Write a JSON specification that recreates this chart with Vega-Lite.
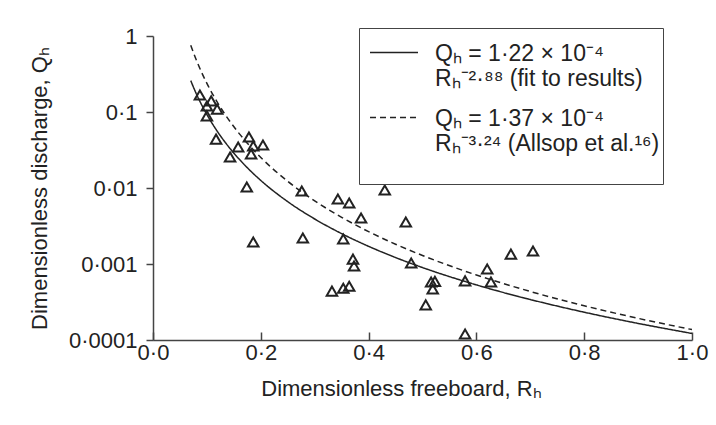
{
  "$schema": "https://vega.github.io/schema/vega-lite/v6.json",
  "width": 539,
  "height": 304,
  "autosize": {"type": "none"},
  "padding": {"left": 153, "top": 36, "right": 24, "bottom": 85},
  "background": "white",
  "config": {
    "view": {"stroke": null},
    "font": "Liberation Sans",
    "style": {"guide-label": {"lineHeight": 25}},
    "axis": {
      "grid": false,
      "domainColor": "#444",
      "domainWidth": 1.5,
      "tickColor": "#444",
      "tickWidth": 1.5,
      "labelFont": "Liberation Sans",
      "labelFontSize": 22,
      "labelColor": "#222",
      "labelFlush": false,
      "labelOverlap": false,
      "titleFont": "Liberation Sans",
      "titleFontSize": 22,
      "titleFontWeight": "normal",
      "titleColor": "#222"
    }
  },
  "datasets": {
    "obs": [
      {"R": 0.087, "Q": 0.167}, {"R": 0.108, "Q": 0.14}, {"R": 0.100, "Q": 0.12},
      {"R": 0.119, "Q": 0.109}, {"R": 0.100, "Q": 0.089}, {"R": 0.117, "Q": 0.044},
      {"R": 0.158, "Q": 0.0346}, {"R": 0.143, "Q": 0.0256}, {"R": 0.178, "Q": 0.047},
      {"R": 0.186, "Q": 0.0357}, {"R": 0.204, "Q": 0.0368}, {"R": 0.182, "Q": 0.028},
      {"R": 0.174, "Q": 0.0103}, {"R": 0.186, "Q": 0.00195}, {"R": 0.276, "Q": 0.00914},
      {"R": 0.343, "Q": 0.00717}, {"R": 0.364, "Q": 0.00635}, {"R": 0.430, "Q": 0.0094},
      {"R": 0.386, "Q": 0.00403}, {"R": 0.469, "Q": 0.00357}, {"R": 0.278, "Q": 0.0022},
      {"R": 0.353, "Q": 0.00213}, {"R": 0.371, "Q": 0.00116}, {"R": 0.373, "Q": 0.00094},
      {"R": 0.479, "Q": 0.00103}, {"R": 0.332, "Q": 0.00044}, {"R": 0.353, "Q": 0.00048},
      {"R": 0.364, "Q": 0.00051}, {"R": 0.516, "Q": 0.00058}, {"R": 0.523, "Q": 0.00059},
      {"R": 0.519, "Q": 0.00047}, {"R": 0.506, "Q": 0.00029}, {"R": 0.664, "Q": 0.00135},
      {"R": 0.705, "Q": 0.00148}, {"R": 0.620, "Q": 0.00086}, {"R": 0.579, "Q": 0.0006},
      {"R": 0.627, "Q": 0.00058}, {"R": 0.579, "Q": 0.00012}
    ],
    "curves": [
      {"series": "fit", "R": 0.07, "Q": 0.2587},
      {"series": "fit", "R": 0.08, "Q": 0.17596},
      {"series": "fit", "R": 0.09, "Q": 0.12535},
      {"series": "fit", "R": 0.10, "Q": 0.09255},
      {"series": "fit", "R": 0.12, "Q": 0.05475},
      {"series": "fit", "R": 0.14, "Q": 0.03512},
      {"series": "fit", "R": 0.16, "Q": 0.02391},
      {"series": "fit", "R": 0.18, "Q": 0.01703},
      {"series": "fit", "R": 0.20, "Q": 0.01257},
      {"series": "fit", "R": 0.25, "Q": 0.006611},
      {"series": "fit", "R": 0.30, "Q": 0.003911},
      {"series": "fit", "R": 0.35, "Q": 0.002509},
      {"series": "fit", "R": 0.40, "Q": 0.001708},
      {"series": "fit", "R": 0.45, "Q": 0.001216},
      {"series": "fit", "R": 0.50, "Q": 0.000898},
      {"series": "fit", "R": 0.60, "Q": 0.000531},
      {"series": "fit", "R": 0.70, "Q": 0.0003408},
      {"series": "fit", "R": 0.80, "Q": 0.000232},
      {"series": "fit", "R": 0.90, "Q": 0.0001653},
      {"series": "fit", "R": 1.00, "Q": 0.000122},
      {"series": "allsop", "R": 0.07, "Q": 0.7562},
      {"series": "allsop", "R": 0.08, "Q": 0.4906},
      {"series": "allsop", "R": 0.09, "Q": 0.3349},
      {"series": "allsop", "R": 0.10, "Q": 0.2381},
      {"series": "allsop", "R": 0.12, "Q": 0.1319},
      {"series": "allsop", "R": 0.14, "Q": 0.08003},
      {"series": "allsop", "R": 0.16, "Q": 0.05193},
      {"series": "allsop", "R": 0.18, "Q": 0.03545},
      {"series": "allsop", "R": 0.20, "Q": 0.0252},
      {"series": "allsop", "R": 0.25, "Q": 0.012229},
      {"series": "allsop", "R": 0.30, "Q": 0.006775},
      {"series": "allsop", "R": 0.35, "Q": 0.004111},
      {"series": "allsop", "R": 0.40, "Q": 0.002667},
      {"series": "allsop", "R": 0.45, "Q": 0.001821},
      {"series": "allsop", "R": 0.50, "Q": 0.001294},
      {"series": "allsop", "R": 0.60, "Q": 0.000717},
      {"series": "allsop", "R": 0.70, "Q": 0.000435},
      {"series": "allsop", "R": 0.80, "Q": 0.000282},
      {"series": "allsop", "R": 0.90, "Q": 0.0001928},
      {"series": "allsop", "R": 1.00, "Q": 0.000137}
    ]
  },
  "layer": [
    {
      "data": {"name": "curves"},
      "mark": {"type": "line", "interpolate": "monotone", "strokeWidth": 1.5, "color": "#222"},
      "encoding": {
        "x": {
          "field": "R", "type": "quantitative",
          "scale": {"domain": [0, 1], "nice": false, "zero": false},
          "axis": {
            "values": [0, 0.2, 0.4, 0.6, 0.8, 1],
            "labelExpr": "replace(format(datum.value, '.1f'), '.', '·')",
            "tickSize": -8,
            "labelPadding": 10,
            "title": "Dimensionless freeboard, Rₕ",
            "titleX": 248,
            "titleY": 55,
            "titleAlign": "center",
            "titleBaseline": "alphabetic"
          }
        },
        "y": {
          "field": "Q", "type": "quantitative",
          "scale": {"type": "log", "domain": [0.0001, 1], "nice": false},
          "axis": {
            "values": [0.0001, 0.001, 0.01, 0.1, 1],
            "labelExpr": "datum.value >= 1 ? '1' : replace(toString(datum.value), '.', '·')",
            "tickSize": 7,
            "labelPadding": 9,
            "title": "Dimensionless discharge, Qₕ",
            "titleX": -107,
            "titleAngle": -90,
            "titleBaseline": "alphabetic"
          }
        },
        "strokeDash": {
          "field": "series", "type": "nominal",
          "scale": {"domain": ["fit", "allsop"], "range": [[1, 0], [6, 4]]},
          "legend": {
            "title": null,
            "orient": "none",
            "legendX": 206,
            "legendY": -8,
            "padding": 3,
            "strokeColor": "#444",
            "fillColor": "white",
            "symbolType": "M-0.35,1H4.45",
            "symbolSize": 400,
            "symbolStrokeWidth": 1.5,
            "symbolStrokeColor": "#222",
            "symbolFillColor": "transparent",
            "labelFont": "Liberation Sans",
            "labelFontSize": 23,
            "labelColor": "#222",
            "labelBaseline": "top",
            "labelOffset": 50,
            "labelLimit": 500,
            "rowPadding": 5,
            "labelExpr": "datum.value == 'fit' ? ['Qₕ = 1·22 × 10⁻⁴', 'Rₕ⁻²·⁸⁸ (fit to results)'] : ['Qₕ = 1·37 × 10⁻⁴', 'Rₕ⁻³·²⁴ (Allsop et al.¹⁶)      ', '']"
          }
        }
      }
    },
    {
      "data": {"name": "obs"},
      "mark": {"type": "point", "shape": "triangle-up", "filled": false, "size": 110, "stroke": "#222", "strokeWidth": 2, "opacity": 1},
      "encoding": {
        "x": {"field": "R", "type": "quantitative"},
        "y": {"field": "Q", "type": "quantitative"}
      }
    }
  ]
}
